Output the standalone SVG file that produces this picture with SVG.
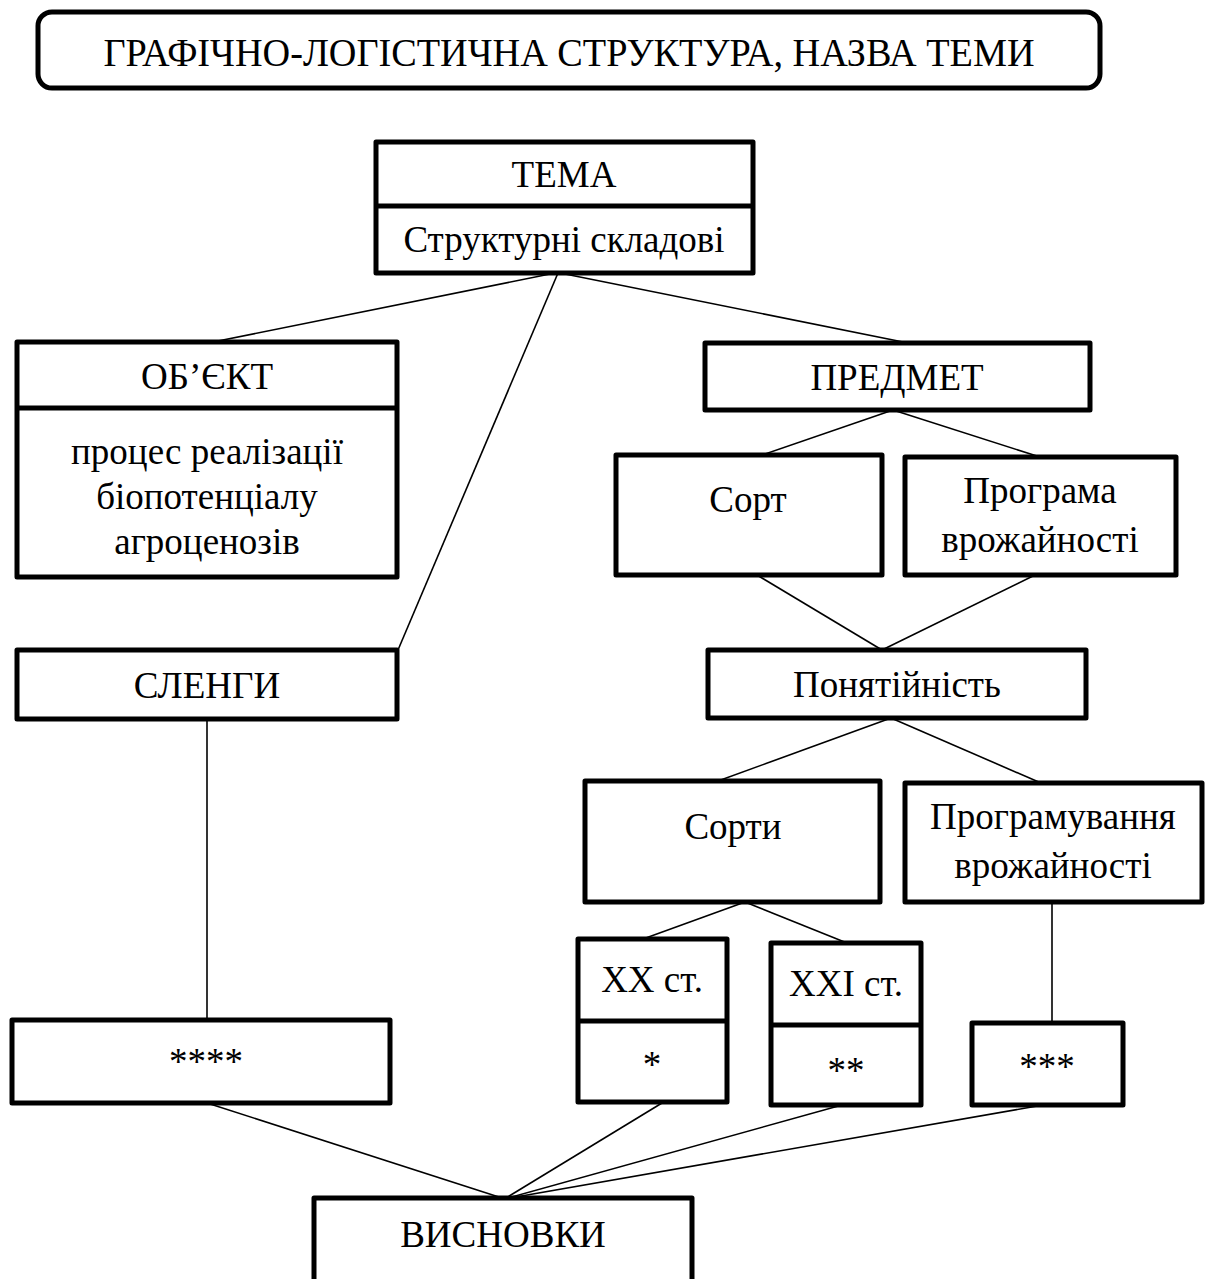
<svg xmlns="http://www.w3.org/2000/svg" width="1205" height="1279" viewBox="0 0 1205 1279">
<style>
.box{fill:#fff;stroke:#000;stroke-width:5;stroke-linejoin:round}
.div{stroke:#000;stroke-width:5}
.ln{stroke:#000;stroke-width:1.6;fill:none}
text{font-family:"Liberation Serif","Times New Roman",serif;font-size:37px;fill:#000;text-anchor:middle}
.title{font-size:40px}
</style>
<rect width="1205" height="1279" fill="#fff"/>
<g id="connectors">
<line class="ln" x1="555" y1="273" x2="213" y2="342"/>
<line class="ln" x1="558" y1="273" x2="398" y2="650"/>
<line class="ln" x1="560" y1="273" x2="908" y2="343"/>
<line class="ln" x1="893" y1="410" x2="762" y2="455"/>
<line class="ln" x1="893" y1="410" x2="1040" y2="457"/>
<line class="ln" x1="757" y1="575" x2="882" y2="650"/>
<line class="ln" x1="1035" y1="575" x2="882" y2="650"/>
<line class="ln" x1="891" y1="718" x2="718" y2="781"/>
<line class="ln" x1="891" y1="718" x2="1041" y2="783"/>
<line class="ln" x1="745" y1="902" x2="643" y2="939"/>
<line class="ln" x1="745" y1="902" x2="847" y2="943"/>
<line class="ln" x1="207" y1="719" x2="207" y2="1020"/>
<line class="ln" x1="1052" y1="902" x2="1052" y2="1023"/>
<line class="ln" x1="207" y1="1103" x2="502" y2="1198"/>
<line class="ln" x1="662" y1="1103" x2="506" y2="1198"/>
<line class="ln" x1="842" y1="1105" x2="508" y2="1198"/>
<line class="ln" x1="1043" y1="1105" x2="510" y2="1198"/>
</g>
<g id="title">
<rect class="box" x="38" y="12" width="1062" height="76" rx="14"/>
<text class="title" x="569" y="66" textLength="931" lengthAdjust="spacingAndGlyphs">ГРАФІЧНО-ЛОГІСТИЧНА СТРУКТУРА, НАЗВА ТЕМИ</text>
</g>
<g id="tema">
<rect class="box" x="376" y="142" width="377" height="131"/>
<line class="div" x1="376" y1="206" x2="753" y2="206"/>
<text x="564" y="187">ТЕМА</text>
<text x="564" y="252">Структурні складові</text>
</g>
<g id="obiekt">
<rect class="box" x="17" y="342" width="380" height="235"/>
<line class="div" x1="17" y1="408" x2="397" y2="408"/>
<text x="207" y="389">ОБ’ЄКТ</text>
<text x="207" y="464">процес реалізації</text>
<text x="207" y="509">біопотенціалу</text>
<text x="207" y="554">агроценозів</text>
</g>
<g id="predmet">
<rect class="box" x="705" y="343" width="385" height="67"/>
<text x="897" y="390">ПРЕДМЕТ</text>
</g>
<g id="sort">
<rect class="box" x="616" y="455" width="266" height="120"/>
<text x="748" y="512">Сорт</text>
</g>
<g id="programa">
<rect class="box" x="905" y="457" width="271" height="118"/>
<text x="1040" y="503">Програма</text>
<text x="1040" y="552">врожайності</text>
</g>
<g id="slengy">
<rect class="box" x="17" y="650" width="380" height="69"/>
<text x="207" y="698">СЛЕНГИ</text>
</g>
<g id="ponyatiynist">
<rect class="box" x="708" y="650" width="378" height="68"/>
<text x="897" y="697">Понятійність</text>
</g>
<g id="sorty">
<rect class="box" x="585" y="781" width="295" height="121"/>
<text x="733" y="839">Сорти</text>
</g>
<g id="prohramuvannia">
<rect class="box" x="905" y="783" width="297" height="119"/>
<text x="1053" y="829">Програмування</text>
<text x="1053" y="878">врожайності</text>
</g>
<g id="xx">
<rect class="box" x="578" y="939" width="149" height="163"/>
<line class="div" x1="578" y1="1021" x2="727" y2="1021"/>
<text x="652" y="992">XX ст.</text>
<text x="652" y="1077">*</text>
</g>
<g id="xxi">
<rect class="box" x="771" y="943" width="150" height="162"/>
<line class="div" x1="771" y1="1025" x2="921" y2="1025"/>
<text x="846" y="996">XXI ст.</text>
<text x="846" y="1083">**</text>
</g>
<g id="stars3">
<rect class="box" x="972" y="1023" width="151" height="82"/>
<text x="1047" y="1079">***</text>
</g>
<g id="stars4">
<rect class="box" x="12" y="1020" width="378" height="83"/>
<text x="206" y="1074">****</text>
</g>
<g id="vysnovky">
<rect class="box" x="314" y="1198" width="378" height="100"/>
<text x="503" y="1247">ВИСНОВКИ</text>
</g>
</svg>
